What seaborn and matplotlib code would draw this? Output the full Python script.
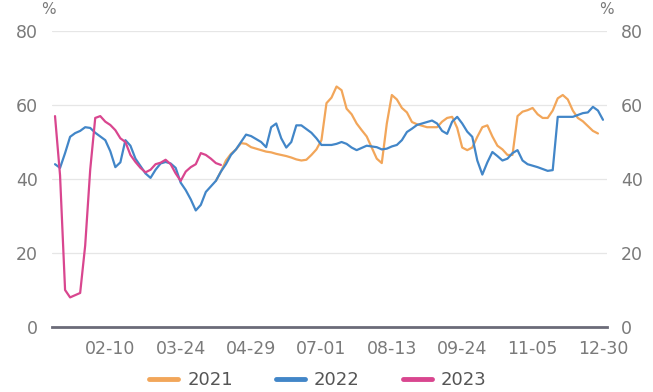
import numpy as np
import pandas as pd
import matplotlib
matplotlib.use("Agg")
import matplotlib.pyplot as plt
import seaborn as sns

nan = np.nan

tick_labels = ["02-10", "03-24", "04-29", "07-01", "08-13", "09-24", "11-05", "12-30"]
tick_positions = [11, 25, 39, 53, 67, 81, 95, 109]

y2021 = [nan] * 32 + [
    39.5, 42, 45, 46.8, 48, 49.7, 49.5, 48.6, 48.2, 47.8,
    47.4, 47.2, 46.8, 46.5, 46.2, 45.8, 45.3, 45, 45.2, 46.5,
    48, 50.5, 60.5, 62, 65, 64, 59, 57.5, 55, 53.2,
    51.5, 48.5, 45.5, 44.3, 55, 62.7, 61.5, 59.2, 58, 55.4,
    54.8, 54.4, 54, 54, 54, 55.5, 56.5, 56.8, 53.8, 48.5,
    47.8, 48.5, 51.4, 54, 54.5, 51.5, 49, 48, 46.5, 46.5,
    57, 58.2, 58.6, 59.2, 57.5, 56.5, 56.5, 58.5, 61.8, 62.7,
    61.5, 58.5, 56.5, 55.6, 54.3, 53, 52.3, nan]

y2022 = [
    44, 43, 47, 51.4, 52.4, 53, 54, 53.8, 52.5, 51.5,
    50.5, 47.5, 43.2, 44.5, 50.5, 49, 45.5, 43.5, 41.5, 40.3,
    42.5, 44.2, 44.6, 44.2, 43, 39, 37, 34.5, 31.5, 33,
    36.5, 38, 39.5, 42, 44, 46.5, 48, 50, 52, 51.6,
    50.8, 50, 48.6, 54, 55, 51, 48.5, 50, 54.5, 54.5,
    53.5, 52.5, 51, 49.2, 49.2, 49.2, 49.5, 50, 49.5, 48.5,
    47.8, 48.4, 49, 48.8, 48.6, 48, 48.2, 48.8, 49.2, 50.5,
    52.7, 53.6, 54.6, 55, 55.4, 55.8, 55, 53, 52.2, 55.5,
    56.8, 55, 52.8, 51.4, 45, 41.2, 44.5, 47.3, 46.2, 45,
    45.5, 47, 47.8, 45, 44, 43.6, 43.2, 42.7, 42.2, 42.4,
    56.8, 56.8, 56.8, 56.8, 57.3, 57.8, 58, 59.5, 58.5, 56]

y2023 = [
    57, 41, 10, 8, 8.6, 9.2, 22, 42.5, 56.5, 57,
    55.5, 54.6, 53.2, 51, 50, 46.5, 44.6, 43, 41.8, 42.5,
    44, 44.4, 45.2, 44, 41.5, 39.5, 42, 43.2, 44, 47,
    46.5, 45.5, 44.3, 43.8] + [nan] * 76

years = ["2021", "2022", "2023"]
colors = ["#F2A65A", "#4286C8", "#D9468F"]

n = len(y2022)
df = pd.DataFrame({
    "idx": list(range(n)) * 3,
    "value": y2021 + y2022 + y2023,
    "year": ["2021"] * n + ["2022"] * n + ["2023"] * n,
})

sns.set_style("white")
fig = plt.figure(figsize=(6.53, 3.92), dpi=100)
ax = fig.add_axes([52 / 653, 65 / 392, (607 - 52) / 653, (327 - 31) / 392])

sns.lineplot(data=df, x="idx", y="value", hue="year", palette=dict(zip(years, colors)),
             linewidth=1.6, ax=ax, legend=False, sort=True)

ax.set_xlim(-0.6, 109.8)
ax.set_ylim(0, 80)
ax.set_yticks([0, 20, 40, 60, 80])
ax.set_xticks(tick_positions)
ax.set_xticklabels(tick_labels)
ax.set_xlabel("")
ax.set_ylabel("")
for s in ["top", "right", "left"]:
    ax.spines[s].set_visible(False)
ax.spines["bottom"].set_color("#6b6b78")
ax.spines["bottom"].set_linewidth(2)
ax.grid(axis="y", color="#e6e6e6", linewidth=0.9)
ax.set_axisbelow(True)
ax.tick_params(axis="both", length=0, labelsize=12.5, colors="#7a7a7a")
ax.tick_params(axis="y", labelright=True, pad=10)
ax.tick_params(axis="x", pad=9)

fig.text(48 / 653, 1 - 9 / 392, "%", ha="center", va="center", fontsize=11, color="#7a7a7a")
fig.text(606 / 653, 1 - 9 / 392, "%", ha="center", va="center", fontsize=11, color="#7a7a7a")

handles = [plt.Line2D([0], [0], color=c, linewidth=3.5) for c in colors]
fig.legend(handles, years, loc="center", bbox_to_anchor=(318 / 653, 1 - 380 / 392),
           ncol=3, frameon=False, fontsize=13, handlelength=1.6, columnspacing=2.4,
           handletextpad=0.5, labelcolor="#555555")

fig.savefig("out.png", dpi=100)
